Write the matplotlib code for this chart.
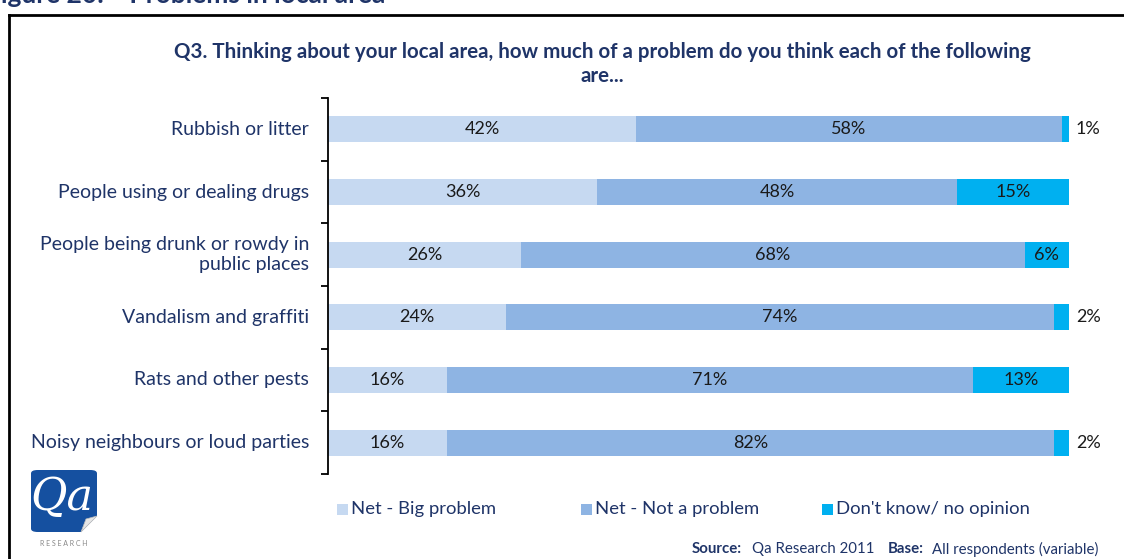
import matplotlib
matplotlib.use("Agg")
import matplotlib.pyplot as plt
from matplotlib.patches import FancyBboxPatch, Rectangle, Polygon
from matplotlib.lines import Line2D

plt.rcParams['font.family'] = ['Lato', 'DejaVu Sans']

categories = [
    "Rubbish or litter",
    "People using or dealing drugs",
    "People being drunk or rowdy in\npublic places",
    "Vandalism and graffiti",
    "Rats and other pests",
    "Noisy neighbours or loud parties",
]
big_problem = [42, 36, 26, 24, 16, 16]
not_problem = [58, 48, 68, 74, 71, 82]
dont_know = [1, 15, 6, 2, 13, 2]
series_names = ["Net - Big problem", "Net - Not a problem", "Don't know/ no opinion"]
colors = ["#C6D9F1", "#8EB4E3", "#00B0F0"]

title = ("Q3. Thinking about your local area, how much of a problem do you think each of the following\nare...")
heading = "Figure 20:    Problems in local area"

NAVY = "#1F3468"
W, H = 1124, 559
fig = plt.figure(figsize=(W / 100, H / 100), dpi=100)
PX = 72 / 100  # points per pixel


def fx(px):
    return px / W


def fy(py):
    return 1 - py / H


# page heading, cut by the top edge
fig.text(fx(-14), fy(-5), heading, fontsize=19, fontweight='bold', color=NAVY,
         ha='left', va='center')

# outer frame (left and top edges)
fig.add_artist(Line2D([fx(9), fx(9)], [fy(15), fy(H + 5)], color='black', lw=2))
fig.add_artist(Line2D([fx(9), fx(W + 5)], [fy(15), fy(15)], color='black', lw=2))

fig.text(fx(602), fy(64), title, fontsize=14.8, fontweight='bold', color=NAVY,
         ha='center', va='center', linespacing=1.2)

ax = fig.add_axes([fx(328), fy(474), fx(1069) - fx(328), fy(98) - fy(474)])

series = [big_problem, not_problem, dont_know]
n = len(categories)
ypos = list(range(n))
totals = [sum(v) for v in zip(*series)]
lefts = [0.0] * n
bar_h = 0.42
for si, (vals, col) in enumerate(zip(series, colors)):
    widths = [v / t * 100 for v, t in zip(vals, totals)]
    ax.barh(ypos, widths, left=lefts, height=bar_h, color=col, edgecolor='none')
    for i, (v, w, l) in enumerate(zip(vals, widths, lefts)):
        if w >= 4:
            ax.text(l + w / 2, i, f"{v}%", ha='center', va='center', fontsize=13,
                    color='#1a1a1a')
        else:
            ax.annotate(f"{v}%", xy=(l + w, i), xytext=(7 * PX, 0),
                        textcoords='offset points', ha='left', va='center',
                        fontsize=13, color='#1a1a1a')
    lefts = [l + w for l, w in zip(lefts, widths)]

ax.set_xlim(0, 100)
ax.set_ylim(n - 0.5, -0.5)
ax.set_xticks([])
ax.set_yticks([y - 0.5 for y in range(n + 1)])
ax.set_yticklabels([])
ax.tick_params(axis='y', length=5, width=1.3, direction='out', color='black')
for s in ['top', 'right', 'bottom']:
    ax.spines[s].set_visible(False)
ax.spines['left'].set_linewidth(1.3)
ax.set_facecolor('none')

for i, c in enumerate(categories):
    ax.annotate(c, xy=(0, i), xytext=(-19 * PX, 0), textcoords='offset points',
                ha='right', va='center', fontsize=14, color=NAVY,
                multialignment='right', linespacing=1.2)

# legend
leg_x = [343, 587, 828]
for x, name, col in zip(leg_x, series_names, colors):
    fig.add_artist(Rectangle((fx(x - 6), fy(515)), fx(11), fy(504) - fy(515),
                             facecolor=col, edgecolor='none'))
    fig.text(fx(x + 8), fy(509), name, fontsize=13.3, color=NAVY, ha='left', va='center')

# source line
src_parts = [(692, "Source:", 'bold'), (752, "Qa Research 2011", 'normal'),
             (888, "Base:", 'bold'), (932, "All respondents (variable)", 'normal')]
for x, t, wgt in src_parts:
    fig.text(fx(x), fy(549), t, fontsize=10.8, fontweight=wgt, color=NAVY,
             ha='left', va='center')

# Qa Research logo
logo = FancyBboxPatch((fx(31), fy(532)), fx(66), fy(470) - fy(532),
                      boxstyle="round,pad=0,rounding_size=0.006",
                      facecolor='#1550A0', edgecolor='none', transform=fig.transFigure)
fig.add_artist(logo)
curl = Polygon([(fx(97), fy(516)), (fx(81), fy(532)), (fx(97), fy(532))],
               closed=True, facecolor='white', edgecolor='none', transform=fig.transFigure)
fig.add_artist(curl)
fold = Polygon([(fx(97), fy(516)), (fx(81), fy(532)), (fx(86), fy(519))],
               closed=True, facecolor='#E6E6E6', edgecolor='#BBBBBB', lw=0.5,
               transform=fig.transFigure)
fig.add_artist(fold)
fig.text(fx(62), fy(497), "Qa", fontsize=32, fontstyle='italic', family='DejaVu Serif',
         color='white', ha='center', va='center')
fig.text(fx(64), fy(544), "R E S E A R C H", fontsize=5, color='#888888',
         ha='center', va='center')

fig.savefig("out.png", dpi=100)
